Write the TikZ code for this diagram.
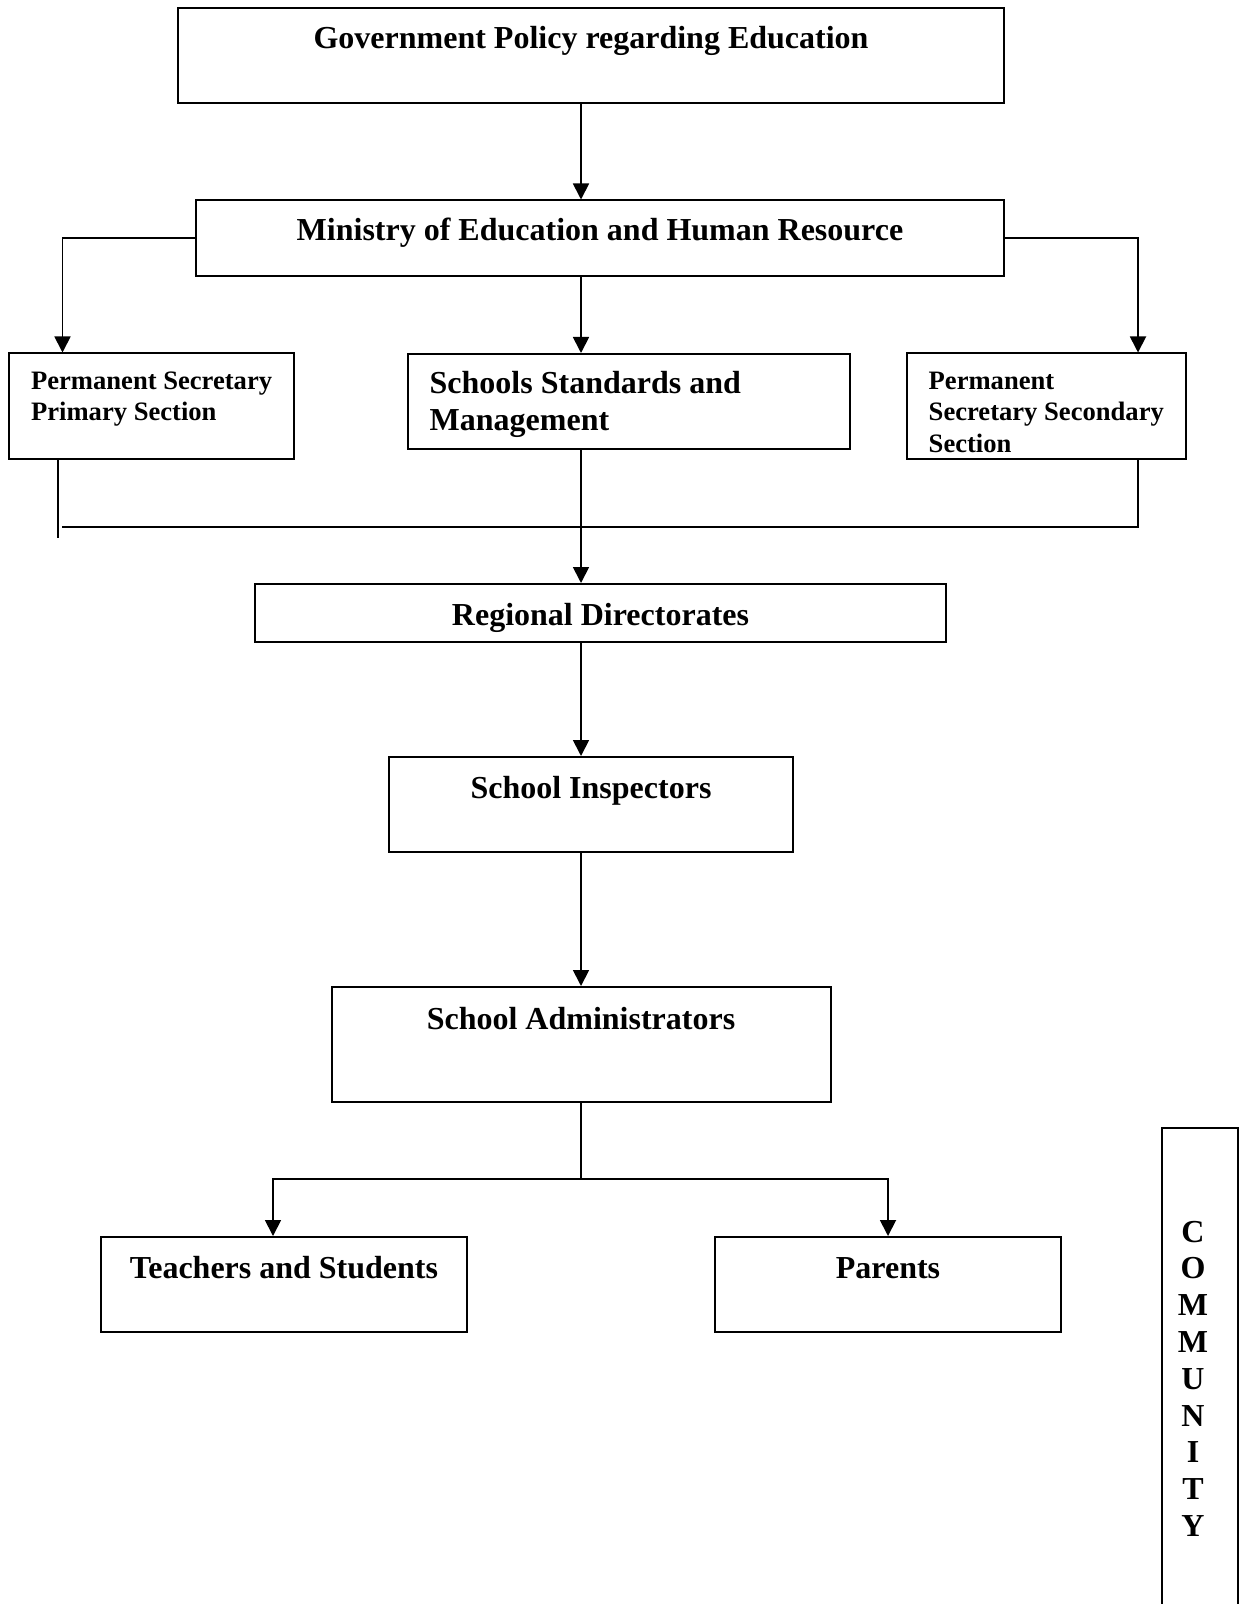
\documentclass[tikz,border=0pt]{standalone}
\usepackage{fontspec}
\setmainfont{Liberation Serif}
\usetikzlibrary{fit,arrows.meta}
\tikzset{
  box/.style={draw, line width=1pt, inner sep=0pt},
  conn/.style={line width=0.9pt},
  arr/.style={conn, -{Triangle[length=8pt,width=8pt]}},
  big/.style={font=\fontsize{16}{18.4}\selectfont\bfseries, inner sep=0pt},
  small/.style={font=\fontsize{13.3}{15.9}\selectfont\bfseries, inner sep=0pt},
}
\begin{document}
\begin{tikzpicture}[x=0.5pt,y=-0.5pt]
\useasboundingbox (0,0) rectangle (1239,1604);
% boxes
\node[box, fit={(178,8) (1004,103)}] (gov) {};
\node[box, fit={(196,200.5) (1004,276)}] (min) {};
\node[box, fit={(9,353.5) (293.5,459.3)}] (psp) {};
\node[box, fit={(408.3,354) (850,448.7)}] (ssm) {};
\node[box, fit={(906.7,353.5) (1186,459.3)}] (pss) {};
\node[box, fit={(255,584) (946,641.5)}] (reg) {};
\node[box, fit={(389,757) (793,852)}] (insp) {};
\node[box, fit={(331.5,987) (831,1102)}] (adm) {};
\node[box, fit={(101,1237) (466.5,1332)}] (tea) {};
\node[box, fit={(715,1237) (1061,1332)}] (par) {};
\node[box, fit={(1162,1128) (1238,1640)}] (com) {};
% texts
\node[big, anchor=base] (govt) at (591,49) {Government Policy regarding Education};
\node[big, anchor=base] (mint) at (600,241) {Ministry of Education and Human Resource};
\node[small, anchor=base west] (psp1) at (30.7,389.3) {Permanent Secretary};
\node[small, anchor=base west] (psp2) at (30.7,421) {Primary Section};
\node[big, anchor=base west] (ssm1) at (429.3,393.3) {Schools Standards and};
\node[big, anchor=base west] (ssm2) at (429.3,430.7) {Management};
\node[small, anchor=base west] (pss1) at (928.3,389.3) {Permanent};
\node[small, anchor=base west] (pss2) at (928.3,421) {Secretary Secondary};
\node[small, anchor=base west] (pss3) at (928.3,452.7) {Section};
\node[big, anchor=base] (regt) at (600.5,625) {Regional Directorates};
\node[big, anchor=base] (inspt) at (591,798) {School Inspectors};
\node[big, anchor=base] (admt) at (581,1029) {School Administrators};
\node[big, anchor=base] (teat) at (284,1278) {Teachers and Students};
\node[big, anchor=base] (part) at (888,1278) {Parents};
\foreach \l [count=\i from 0] in {C,O,M,M,U,N,I,T,Y}
  \node[big, anchor=base] (com\i) at (1193,1242+36.8*\i) {\l};
% helper coordinates
\coordinate (spine) at (581,0);
\coordinate (lcol) at (62.5,0);
\coordinate (rcol) at (1138,0);
\coordinate (lcol2) at (58,538);
\coordinate (hbar) at (62,527);
\coordinate (split) at (581,1179);
\coordinate (tcol) at (273,0);
% connectors
\draw[arr] (gov.south -| spine) -- (min.north -| spine);
\draw[arr] (min.west) -| (lcol |- psp.north);
\draw[arr] (min.east) -| (rcol |- pss.north);
\draw[arr] (min.south -| spine) -- (ssm.north -| spine);
\draw[conn] (psp.south -| lcol2) -- (lcol2);
\draw[conn] (hbar) -- (hbar -| rcol) -- (rcol |- pss.south);
\draw[arr] (ssm.south -| spine) -- (reg.north -| spine);
\draw[arr] (reg.south -| spine) -- (insp.north -| spine);
\draw[arr] (insp.south -| spine) -- (adm.north -| spine);
\draw[conn] (adm.south -| spine) -- (split);
\draw[arr] (split) -| (tcol |- tea.north);
\draw[arr] (split) -| (par.north);
\end{tikzpicture}
\end{document}
